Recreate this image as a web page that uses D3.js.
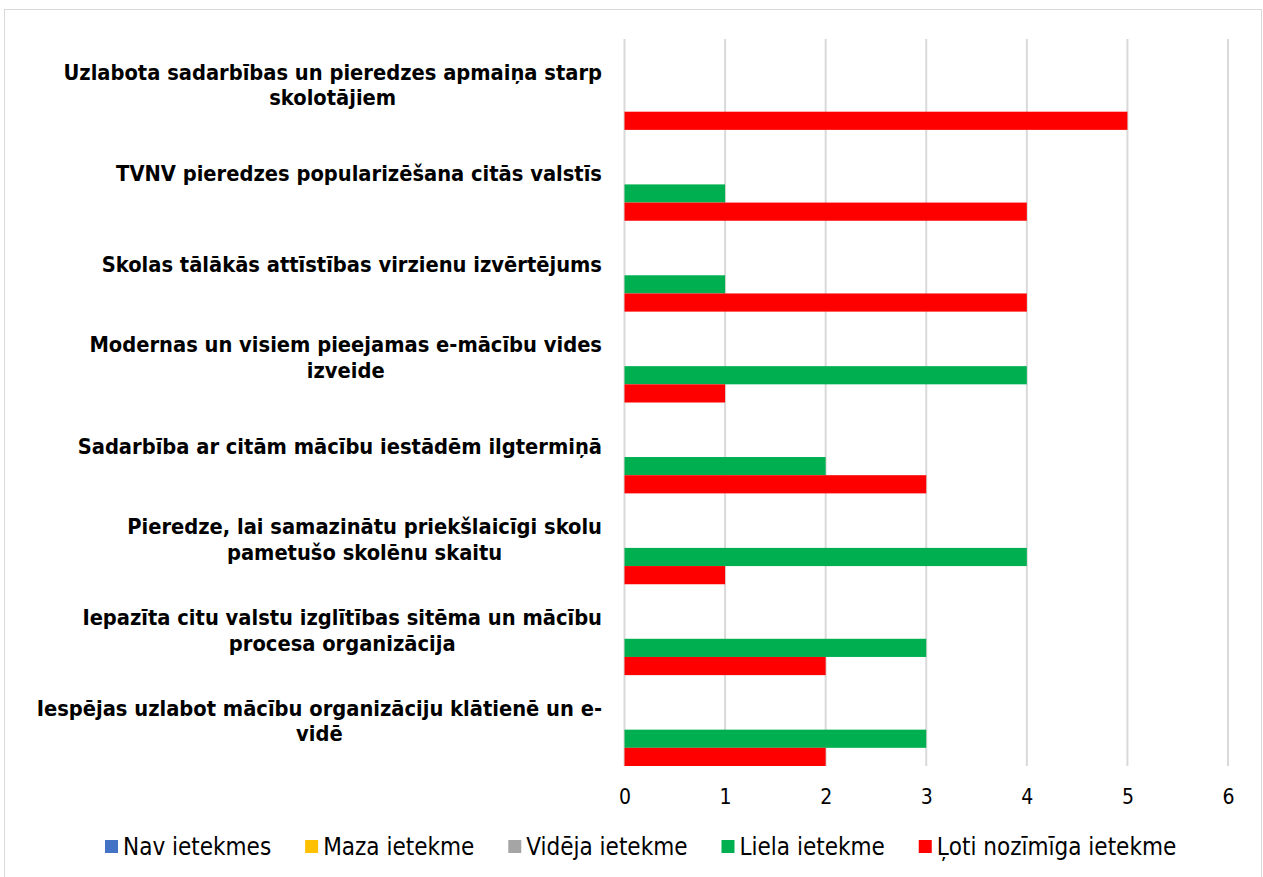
<!DOCTYPE html>
<html><head><meta charset="utf-8">
<script src="https://cdn.jsdelivr.net/npm/d3@7"></script>
<style>body{margin:0;background:#fff}svg{display:block}</style>
</head><body>
<svg id="c" width="1263" height="877"></svg>
<script>
const categories = [
  "Uzlabota sadarbības un pieredzes apmaiņa starp\nskolotājiem",
  "TVNV pieredzes popularizēšana citās valstīs",
  "Skolas tālākās attīstības virzienu izvērtējums",
  "Modernas un visiem pieejamas e-mācību vides\nizveide",
  "Sadarbība ar citām mācību iestādēm ilgtermiņā",
  "Pieredze, lai samazinātu priekšlaicīgi skolu\npametušo skolēnu skaitu",
  "Iepazīta citu valstu izglītības sitēma un mācību\nprocesa organizācija",
  "Iespējas uzlabot mācību organizāciju klātienē un e-\nvidē"
];
const seriesNames = ["Nav ietekmes","Maza ietekme","Vidēja ietekme","Liela ietekme","Ļoti nozīmīga ietekme"];
const seriesColors = ["#4472C4","#FFC000","#A5A5A5","#00B050","#FF0000"];
const navIetekmes   = [0,0,0,0,0,0,0,0];
const mazaIetekme   = [0,0,0,0,0,0,0,0];
const videjaIetekme = [0,0,0,0,0,0,0,0];
const lielaIetekme  = [0,1,1,4,2,4,3,3];
const lotiIetekme   = [5,4,4,1,3,1,2,2];
const seriesValues = [navIetekmes, mazaIetekme, videjaIetekme, lielaIetekme, lotiIetekme];
const xTicks = [0,1,2,3,4,5,6];

(function(){
const svg = d3.select("#c");
const font = "'DejaVu Sans Condensed','DejaVu Sans',sans-serif";

svg.append("rect").attr("x",4.5).attr("y",9.5).attr("width",1257).attr("height",880)
  .attr("fill","#fff").attr("stroke","#d9d9d9").attr("stroke-width",1);

const pL = 624.5, pR = 1228, pT = 39, pB = 766;
const x = d3.scaleLinear().domain([0,6]).range([pL,pR]);
const y = d3.scaleBand().domain(d3.range(categories.length)).range([pT,pB]).padding(0);
const yi = d3.scaleBand().domain(d3.range(seriesNames.length)).range([0,y.bandwidth()]).padding(0);

svg.append("g").selectAll("line").data(xTicks).join("line")
  .attr("x1",d=>x(d)).attr("x2",d=>x(d)).attr("y1",pT).attr("y2",pB)
  .attr("stroke","#d9d9d9").attr("stroke-width",2);

const g = svg.append("g");
seriesValues.forEach((vals,si)=>{
  g.selectAll(null).data(vals).join("rect")
    .attr("x",x(0)).attr("y",(d,i)=>y(i)+yi(si))
    .attr("width",d=>x(d)-x(0)).attr("height",yi.bandwidth())
    .attr("fill",seriesColors[si]);
});

const xAxis = d3.axisBottom(x).tickValues(xTicks).tickFormat(d3.format("d")).tickSize(0).tickPadding(0);
const ax = svg.append("g").attr("transform",`translate(0,${pB+23})`).call(xAxis);
ax.select(".domain").remove();
ax.selectAll("text").attr("font-family",font).attr("font-size",21).attr("fill","#000").attr("dy","0.71em");

categories.forEach((c,i)=>{
  const lines = c.split("\n");
  const cy = y(i)+y.bandwidth()/2 + (lines.length>1 ? 0.5 : -2);
  const lh = 25.5;
  const t = svg.append("text").attr("font-family",font).attr("font-weight","bold")
    .attr("font-size",21.7).attr("fill","#000").attr("text-anchor","middle");
  lines.forEach((l,k)=>{
    t.append("tspan").attr("y",cy+(k-(lines.length-1)/2)*lh).attr("dy","0.35em").text(l);
  });
  const widths = t.selectAll("tspan").nodes().map(n=>n.getComputedTextLength());
  const maxW = d3.max(widths);
  t.selectAll("tspan").attr("x",602 - maxW/2);
});

const legend = svg.append("g");
let lx = 105;
const ly = 847;
seriesNames.forEach((n,i)=>{
  legend.append("rect").attr("x",lx).attr("y",ly-7).attr("width",13).attr("height",13).attr("fill",seriesColors[i]);
  const t = legend.append("text").attr("x",lx+18).attr("y",ly).attr("dy","0.35em")
    .attr("font-family",font).attr("font-size",24).attr("fill","#000").text(n);
  lx += 18 + t.node().getComputedTextLength() + 34;
});
})();
</script>
</body></html>
